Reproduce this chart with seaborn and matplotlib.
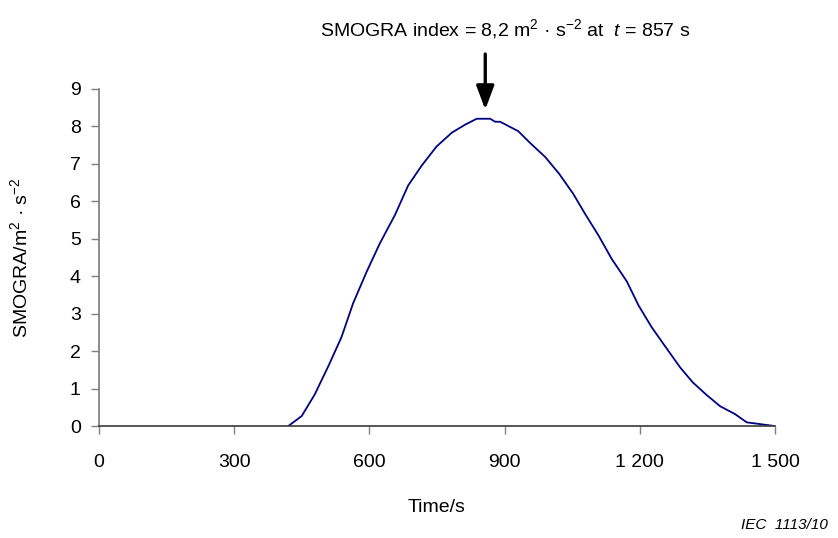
import numpy as np
import pandas as pd
import seaborn as sns
import matplotlib.pyplot as plt

sns.set_theme(style='ticks')
plt.rcParams['font.family'] = ['Liberation Sans', 'DejaVu Sans']
plt.rcParams['mathtext.fontset'] = 'custom'
plt.rcParams['mathtext.rm'] = 'Liberation Sans'
plt.rcParams['mathtext.it'] = 'Liberation Sans:italic'
plt.rcParams['text.color'] = 'black'
plt.rcParams['axes.labelcolor'] = 'black'
plt.rcParams['xtick.labelcolor'] = 'black'
plt.rcParams['ytick.labelcolor'] = 'black'

# values
time_s = [420, 450, 479, 509, 538, 564, 594, 623, 657, 686, 716, 749,
          783, 812, 838, 868, 879, 890, 930, 956, 990, 1021, 1052, 1078, 1108, 1137,
          1171, 1197, 1226, 1260, 1289, 1317, 1348, 1378, 1411, 1437, 1500]
smogra = [0, 0.27, 0.85, 1.6, 2.37, 3.28, 4.12, 4.87, 5.64, 6.42, 6.95, 7.46,
          7.83, 8.04, 8.2, 8.2, 8.12, 8.12, 7.87, 7.56, 7.18, 6.73, 6.2, 5.67, 5.09, 4.47,
          3.86, 3.22, 2.64, 2.06, 1.57, 1.17, 0.83, 0.53, 0.32, 0.1, 0.0]
x_ticks = [0, 300, 600, 900, 1200, 1500]
x_tick_labels = ['0', '300', '600', '900', '1 200', '1 500']
y_ticks = list(range(10))
peak_t = 857
peak_text = r'SMOGRA index = 8,2 m$^{2}$ · s$^{-2}$ at  $\mathit{t}$ = 857 s'

df = pd.DataFrame({'time': time_s, 'smogra': smogra})

fig = plt.figure(figsize=(8.38, 5.38), dpi=100)
ax = fig.add_axes([0.118, 0.208, 0.807, 0.627])
sns.lineplot(data=df, x='time', y='smogra', color='#000080', linewidth=1.3, ax=ax)

ax.set_xlim(0, 1500)
ax.set_ylim(0, 9)
ax.set_xticks(x_ticks)
ax.set_xticklabels(x_tick_labels)
ax.set_yticks(y_ticks)
ax.tick_params(axis='both', labelsize=14, length=6, width=1, color='#808080')
ax.tick_params(axis='x', pad=14)
ax.tick_params(axis='y', pad=7)
for s in ['top', 'right']:
    ax.spines[s].set_visible(False)
ax.spines['left'].set_color('#808080')
ax.spines['bottom'].set_color('#404040')

ax.set_xlabel('Time/s', fontsize=14, labelpad=20)
ax.set_ylabel(r'SMOGRA/m$^{2}$ · s$^{-2}$', fontsize=14, labelpad=28)

ax.annotate('', xy=(peak_t, 8.37), xytext=(peak_t, 10.0),
            arrowprops=dict(arrowstyle='-|>,head_width=0.45,head_length=1.2', color='black', lw=2.4),
            annotation_clip=False)
ax.text(peak_t + 45, 10.6, peak_text, fontsize=14, ha='center', va='center', clip_on=False)

fig.text(0.988, 0.012, 'IEC  1113/10', fontsize=11, style='italic', ha='right', va='bottom')

fig.savefig('out.png', dpi=100)
